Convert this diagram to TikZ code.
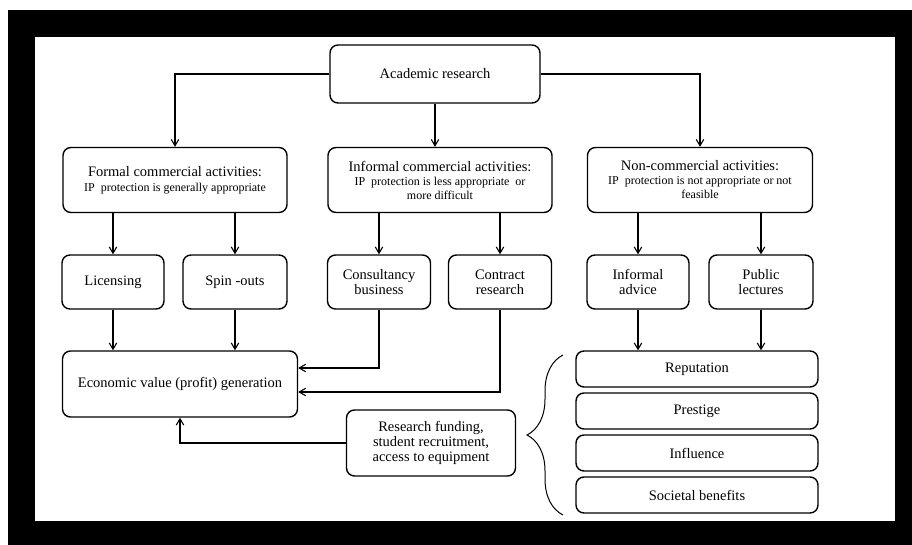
\documentclass[tikz,border=0pt]{standalone}
\usepackage{fontspec}
\setmainfont{Liberation Serif}
\usetikzlibrary{arrows.meta,positioning,decorations.pathreplacing}

\newcommand{\subtxt}{\fontsize{12}{14}\selectfont}

\begin{document}
\begin{tikzpicture}[
  x=1pt,y=-1pt,
  box/.style={draw,rounded corners=8pt,line width=1.4pt,align=center,
              inner sep=2pt,font=\fontsize{14.5}{17}\selectfont},
  arrow/.style={-{Straight Barb[length=2.2mm,width=2.6mm]},line width=1.1pt},
]
\useasboundingbox (0,0) rectangle (912,545);
% frame
\fill[black] (8,10) rectangle (912,545);
\fill[white] (35,37) rectangle (895,521);

% top level
\node[box,minimum width=210pt,minimum height=58pt] (acad) at (435,74) {Academic research};
\node[box,minimum width=224pt,minimum height=65pt] (formal) at (175,180)
  {Formal commercial activities:\\[-2pt]{\subtxt IP\ \ protection is generally appropriate}};
\node[box,minimum width=224pt,minimum height=65pt] (informal) at (440,180)
  {Informal commercial activities:\\[-3pt]{\subtxt IP\ \ protection is less appropriate\ \ or}\\[-3pt]{\subtxt more difficult}};
\node[box,minimum width=225pt,minimum height=65pt] (noncom) at (700,180)
  {Non-commercial activities:\\[-3pt]{\subtxt IP\ \ protection is not appropriate or not}\\[-3pt]{\subtxt feasible}};

% activities
\node[box,minimum width=102pt,minimum height=54pt] (lic) at (113,282) {Licensing};
\node[box,minimum width=104pt,minimum height=54pt] (spin) at (235,282) {Spin -outs};
\node[box,minimum width=103pt,minimum height=54pt] (cons) at (379,282) {Consultancy\\[-2pt]business};
\node[box,minimum width=103pt,minimum height=54pt] (contr) at (500,282) {Contract\\[-2pt]research};
\node[box,minimum width=102pt,minimum height=54pt] (advice) at (638,282) {Informal\\[-2pt]advice};
\node[box,minimum width=104pt,minimum height=54pt] (lect) at (761,282) {Public\\[-2pt]lectures};

% outcomes
\node[box,minimum width=235pt,minimum height=66pt] (econ) at (180,384) {Economic value (profit) generation};
\node[box,minimum width=169pt,minimum height=66pt] (fund) at (431,443)
  {Research funding,\\[-2pt]student recruitment,\\[-2pt]access to equipment};
\node[box,minimum width=242pt,minimum height=36pt] (rep) at (697,369) {Reputation};
\node[box,minimum width=242pt,minimum height=36pt] (prest) at (697,411) {Prestige};
\node[box,minimum width=242pt,minimum height=36pt] (infl) at (697,453) {Influence};
\node[box,minimum width=242pt,minimum height=36pt] (soc) at (697,495) {Societal benefits};

% connectors
\draw[arrow] (acad.west) -| (formal.north);
\draw[arrow] (acad.east) -| (noncom.north);
\draw[arrow] (acad.south) -- (acad.south |- informal.north);
\draw[arrow] (lic.north |- formal.south) -- (lic.north);
\draw[arrow] (spin.north |- formal.south) -- (spin.north);
\draw[arrow] (cons.north |- informal.south) -- (cons.north);
\draw[arrow] (contr.north |- informal.south) -- (contr.north);
\draw[arrow] (advice.north |- noncom.south) -- (advice.north);
\draw[arrow] (lect.north |- noncom.south) -- (lect.north);
\draw[arrow] (lic) -- (lic |- econ.north);
\draw[arrow] (spin) -- (spin |- econ.north);
\draw[arrow] (cons.south) |- ([yshift=16pt]econ.east);
\draw[arrow] (contr.south) |- ([yshift=-8pt]econ.east);
\draw[arrow] (advice) -- (advice |- rep.north);
\draw[arrow] (lect) -- (lect |- rep.north);
\draw[arrow] (fund.west) -| (econ.south);

% brace
\coordinate (btop) at (563,355);
\coordinate (bbot) at (563,515);
\draw[line width=1pt,decorate,decoration={brace,amplitude=36pt,aspect=0.5}] (bbot) -- (btop);
\end{tikzpicture}
\end{document}
